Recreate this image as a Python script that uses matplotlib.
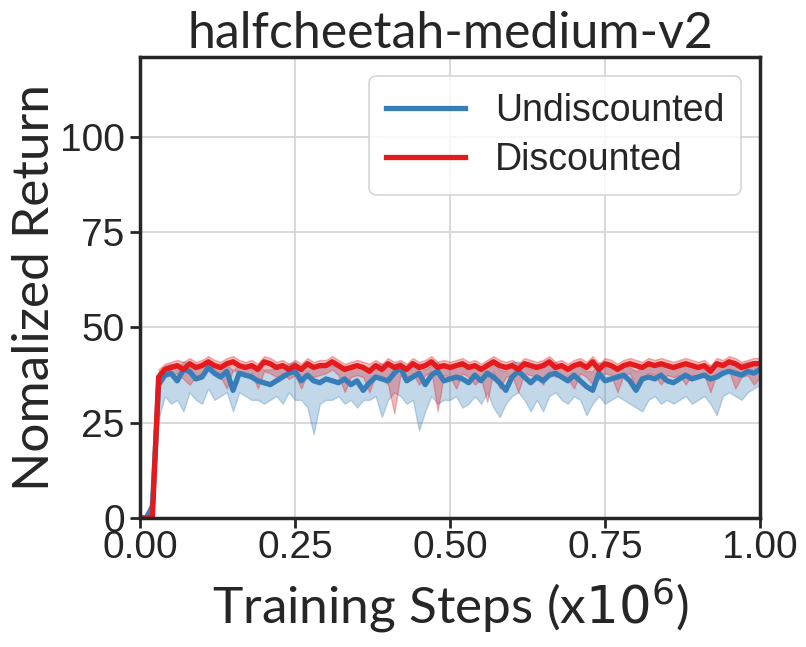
import matplotlib
matplotlib.use("Agg")
import matplotlib.pyplot as plt
import numpy as np

# training steps (x1e6)
steps = np.linspace(0.0, 1.0, 101)

undisc_mean = [0, 0, 3, 35, 37.5, 38, 36, 39, 38.5, 36.5, 37, 39.5, 38, 37, 38.5, 33.5, 38, 37.5, 37, 36,
               35.5, 35, 36, 37, 38, 38.5, 36, 37.5, 36, 35.5, 36.5, 36, 35.5, 36.5, 35, 36, 33.5, 35.5, 37, 36.5,
               36, 38, 39.5, 36, 37, 38, 35, 37.5, 38.5, 36, 36.5, 37, 36.5, 35.5, 37.5, 36, 38, 37, 35.5, 33.5,
               37, 38.5, 37, 35.5, 37, 36, 37.5, 38, 37, 36, 37.5, 36, 34.5, 33.5, 38, 36, 36.5, 37, 37.5, 36,
               33.5, 36.5, 37, 36.5, 37.5, 36, 35.5, 36.5, 37.5, 36.5, 37, 37.5, 36.5, 37, 38, 38.5, 38, 37.5, 38.5, 38,
               39]
undisc_low = [0, 0, 1, 26, 32, 30, 31, 28, 33, 31, 30, 34, 31, 32, 33, 28, 33, 32, 31, 31,
              30, 31, 32, 30, 33, 31, 31, 29, 22, 30, 31, 31, 32, 30, 31, 29, 31, 31, 32, 26.5,
              31, 33, 32, 30, 31, 23, 28, 32, 30, 31, 31, 32, 29, 30, 32, 30, 33, 29, 26.5, 30,
              32, 33, 31, 28, 31, 28, 32, 33, 31, 30, 32, 31, 27, 30, 32, 30, 31, 32, 31, 30,
              29, 28, 31, 32, 30, 31, 30, 31, 32, 30, 31, 32, 30, 27, 32, 33, 32, 31, 33, 34,
              35]
undisc_high = [0, 0.5, 6, 37, 40, 40.5, 39.5, 41, 40.5, 39.5, 40, 41, 40.5, 40, 40.5, 38.5, 40.5, 40, 40, 39.5,
               39, 39, 39.5, 40, 40.5, 41, 39.5, 40, 39.5, 39.5, 40, 40, 39.5, 40, 39, 40, 39, 39.5, 40.5, 40.5,
               39.5, 40.5, 41, 39.5, 40, 40.5, 39, 40, 41, 39.5, 40, 40, 40, 39.5, 40.5, 39.5, 41, 40.5, 39, 38.5,
               41, 41, 40, 39, 40.5, 39.5, 40.5, 41, 40, 39.5, 40.5, 39.5, 38.5, 38.5, 41, 39.5, 40, 40, 40.5, 39.5,
               38.5, 40, 40, 40, 40.5, 39.5, 39, 40, 40.5, 40, 40, 40.5, 40, 40, 41, 41, 41, 40.5, 41, 41,
               41]

disc_mean = [0, 0, 0, 37, 39, 39.5, 40, 39, 40.5, 39.5, 40, 41, 40, 39.5, 40.5, 41, 40, 39.5, 40, 39,
             41, 40.5, 39.5, 40, 39, 40, 39, 40.5, 39.5, 40, 40, 41, 40, 39, 39.5, 40, 39.5, 38.5, 40, 39,
             40.5, 39.5, 40, 39, 40.5, 39.5, 40, 41, 39.5, 40, 39.5, 40, 40.5, 39.5, 40, 39, 40, 41, 40, 39.5,
             40, 39, 40.5, 40, 39.5, 40, 41, 39.5, 40, 39, 40, 40.5, 39.5, 41, 39, 40.5, 40, 39, 40, 40.5,
             40, 39.5, 40.5, 40, 40.5, 40, 39.5, 40, 40.5, 40, 39.5, 40, 38.5, 40.5, 40, 41, 40.5, 39.5, 40, 40.5,
             40.5]
disc_low = [0, 0, 0, 34, 37, 37.5, 38, 36.5, 35, 37, 38, 39, 37.5, 37, 34, 39, 38, 37, 38, 34,
            38.5, 38, 37, 38, 36.5, 37.5, 34, 38, 37, 37.5, 38, 39, 37.5, 33, 37, 37.5, 37, 33, 37.5, 36.5,
            35, 27.5, 37.5, 36.5, 38, 35, 37.5, 38.5, 28, 37.5, 37, 34, 38, 37, 35, 36.5, 30.5, 38.5, 34, 37,
            37.5, 33, 38, 37.5, 37, 35, 38.5, 37, 37.5, 36.5, 34, 38, 37, 35, 36.5, 38, 37.5, 33, 37.5, 38,
            34, 37, 38, 37.5, 35, 37.5, 37, 37.5, 35, 37.5, 37, 37.5, 33, 38, 37.5, 38.5, 34, 37, 37.5, 35,
            37]
disc_high = [0, 0, 1, 39, 40.5, 41, 41.5, 41, 42, 41, 41.5, 42.5, 41.5, 41, 42, 42.5, 41.5, 41, 41.5, 40.5,
             42.5, 42, 41, 41.5, 40.5, 41.5, 40.5, 42, 41, 41.5, 41.5, 42.5, 41.5, 40.5, 41, 41.5, 41, 40.5, 41.5, 40.5,
             42, 41, 41.5, 40.5, 42, 41, 41.5, 42.5, 41, 41.5, 41, 41.5, 42, 41, 41.5, 40.5, 41.5, 42.5, 41.5, 41,
             41.5, 40.5, 42, 41.5, 41, 41.5, 42.5, 41, 41.5, 40.5, 41.5, 42, 41, 42.5, 40.5, 42, 41.5, 40.5, 41.5, 42,
             41.5, 41, 42, 41.5, 42, 41.5, 41, 41.5, 42, 41.5, 41, 41.5, 40, 42, 41.5, 42.5, 42, 41, 41.5, 42,
             42]

blue = "#377eb8"
red = "#e41a1c"
dark = "#262626"

fig = plt.figure(figsize=(8.06, 6.47), dpi=100)
ax = fig.add_axes([0.1737, 0.1994, 0.7693, 0.7125])

ax.fill_between(steps, undisc_low, undisc_high, color=blue, alpha=0.3, linewidth=1)
ax.plot(steps, undisc_mean, color=blue, linewidth=3.8, label="Undiscounted")
ax.fill_between(steps, disc_low, disc_high, color=red, alpha=0.3, linewidth=1)
ax.plot(steps, disc_mean, color=red, linewidth=3.8, label="Discounted")

ax.set_xlim(0, 1.0)
ax.set_ylim(0, 121)
ax.set_xticks([0.0, 0.25, 0.5, 0.75, 1.0])
ax.set_yticks([0, 25, 50, 75, 100])
ax.grid(True, color="#d3d3d3", linewidth=1.2)
ax.set_axisbelow(True)

for s in ax.spines.values():
    s.set_color(dark)
    s.set_linewidth(2.5)
ax.tick_params(axis="both", colors=dark, length=7, width=2, direction="out", labelsize=28)
ax.tick_params(axis="y", pad=4)
ax.tick_params(axis="x", pad=2)
for lab in ax.get_xticklabels() + ax.get_yticklabels():
    lab.set_family(["Liberation Sans", "DejaVu Sans"])

ax.set_title("halfcheetah-medium-v2", fontsize=36, family=["Lato", "DejaVu Sans"], color=dark, pad=5)
ax.set_xlabel("Training Steps (x$10^6$)", fontsize=37, family=["Lato", "DejaVu Sans"], color=dark, labelpad=6)
ax.set_ylabel("Nomalized Return", fontsize=37, family=["Lato", "DejaVu Sans"], color=dark, labelpad=1)

leg = ax.legend(loc="upper right", prop={"family": "Liberation Sans", "size": 27},
                handlelength=2.1, frameon=True, fancybox=True, borderpad=0.45, labelspacing=0.35)
leg.get_frame().set_edgecolor("#cccccc")
leg.get_frame().set_linewidth(1.2)
for t in leg.get_texts():
    t.set_color(dark)

fig.savefig("out.png", dpi=100)
